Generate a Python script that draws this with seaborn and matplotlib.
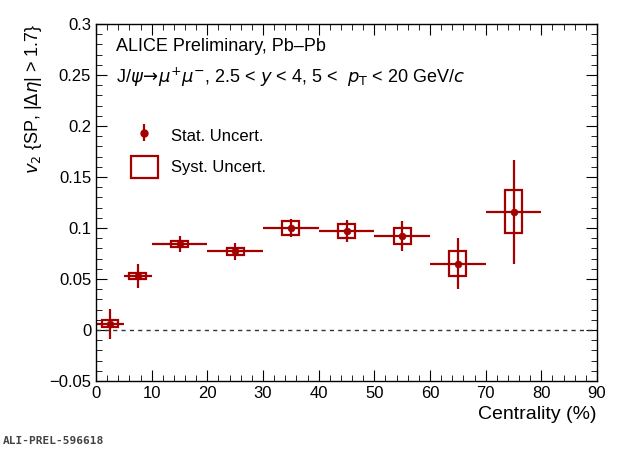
import matplotlib
matplotlib.use('Agg')
import matplotlib.pyplot as plt
import seaborn as sns
import pandas as pd
from matplotlib.patches import Rectangle

# Centrality bins and v2 values
cent_lo = [0, 5, 10, 20, 30, 40, 50, 60, 70]
cent_hi = [5, 10, 20, 30, 40, 50, 60, 70, 80]
v2 = [0.006, 0.053, 0.084, 0.077, 0.100, 0.097, 0.092, 0.065, 0.116]
stat = [0.015, 0.012, 0.008, 0.008, 0.009, 0.011, 0.015, 0.025, 0.051]
syst = [0.0035, 0.0027, 0.003, 0.003, 0.007, 0.0066, 0.008, 0.012, 0.021]

df = pd.DataFrame({'lo': cent_lo, 'hi': cent_hi, 'v2': v2, 'stat': stat, 'syst': syst})
df['x'] = (df['lo'] + df['hi']) / 2
df['xerr'] = (df['hi'] - df['lo']) / 2

sns.set_style('ticks')
plt.rcParams['font.family'] = ['Liberation Sans', 'DejaVu Sans']
plt.rcParams['text.color'] = 'black'
plt.rcParams['axes.labelcolor'] = 'black'
plt.rcParams['xtick.color'] = 'black'
plt.rcParams['ytick.color'] = 'black'
plt.rcParams['axes.edgecolor'] = 'black'
col = '#a50000'

fig = plt.figure(figsize=(6.2, 4.49), dpi=100)
ax = fig.add_axes([96 / 620, 1 - 381 / 449, 501 / 620, 357 / 449])

ax.axhline(0, color='#333333', ls=(0, (3, 3)), lw=1)
for _, r in df.iterrows():
    ax.add_patch(Rectangle((r['x'] - 1.5, r['v2'] - r['syst']), 3.0, 2 * r['syst'],
                           fill=False, ec=col, lw=1.6))
ax.errorbar(df['x'], df['v2'], xerr=df['xerr'], yerr=df['stat'], fmt='none',
            ecolor=col, elinewidth=1.6, capsize=0)
sns.scatterplot(data=df, x='x', y='v2', ax=ax, color=col, s=25, edgecolor=col, zorder=5)

ax.set_xlim(0, 90)
ax.set_ylim(-0.05, 0.3)
ax.set_xticks(range(0, 91, 10))
ax.set_xticks(range(0, 91, 2), minor=True)
ax.set_yticks([-0.05, 0, 0.05, 0.1, 0.15, 0.2, 0.25, 0.3])
ax.set_yticklabels(['\u22120.05', '0', '0.05', '0.1', '0.15', '0.2', '0.25', '0.3'])
ax.set_yticks([i * 0.01 for i in range(-5, 31)], minor=True)
ax.tick_params(which='both', direction='in', top=True, right=True, labelsize=12)
ax.tick_params(which='major', length=8)
ax.tick_params(which='minor', length=4)
for s in ax.spines.values():
    s.set_linewidth(1)
ax.set_xlabel('Centrality (%)', fontsize=14, loc='right')
ax.set_ylabel(r'$v_2$ {SP, |$\Delta\eta$| > 1.7}', fontsize=13, loc='top')

ax.text(0.04, 0.925, 'ALICE Preliminary, Pb\u2013Pb', transform=ax.transAxes, fontsize=13)
ax.text(0.04, 0.835, r'J/$\psi\!\rightarrow\!\mu^{+}\mu^{-}$, 2.5 < $y$ < 4, 5 <  $p_{\rm T}$ < 20 GeV/$c$',
        transform=ax.transAxes, fontsize=13)

h1 = ax.errorbar([], [], yerr=[], fmt='o', color=col, ms=5, elinewidth=1.6)
h2 = Rectangle((0, 0), 1, 1, fill=False, ec=col, lw=1.6)
ax.legend([h1, h2], ['Stat. Uncert.', 'Syst. Uncert.'], loc='upper left',
          bbox_to_anchor=(0.04, 0.76), frameon=False, fontsize=12, handlelength=1.6,
          handleheight=1.6, labelspacing=0.6)

fig.text(0.005, 0.012, 'ALI-PREL-596618', family='DejaVu Sans Mono', fontsize=8, weight='bold', color='#444444')

fig.savefig('out.png', dpi=100)
